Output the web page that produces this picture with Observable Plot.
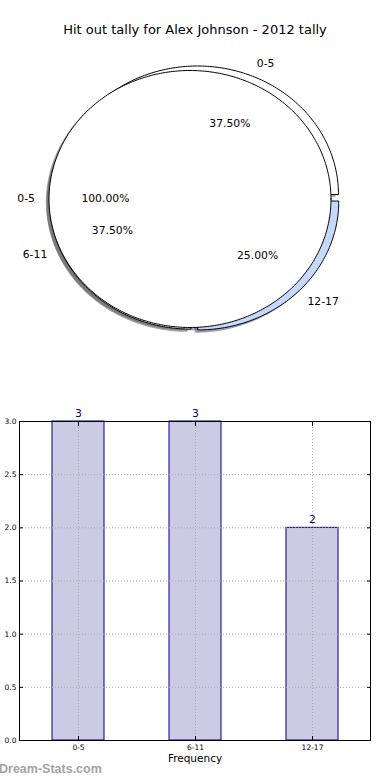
<!DOCTYPE html>
<html><head><meta charset="utf-8">
<script src="https://cdn.jsdelivr.net/npm/d3@7"></script>
<script src="https://cdn.jsdelivr.net/npm/@observablehq/plot@0.6"></script>
<style>
body{margin:0;background:#fff;}
#wrap{position:relative;width:390px;height:780px;overflow:hidden;font-family:"DejaVu Sans",sans-serif;background:#fff;}
#pie{position:absolute;left:0;top:0;}
#title{position:absolute;left:0;width:390px;top:21px;text-align:center;font-size:13px;line-height:17px;color:#000;}
#bar{position:absolute;left:0;top:400px;}
#wm{position:absolute;left:-1px;top:762px;font-family:"Liberation Sans",sans-serif;font-weight:bold;font-size:12.5px;color:#a3a3a3;white-space:nowrap;}
</style></head>
<body>
<div id="wrap">
  <div id="pie"></div>
  <div id="title"></div>
  <div id="bar"></div>
  <div id="wm">Dream-Stats.com</div>
</div>
<script>
// ---- data ----
const titleText = "Hit out tally for Alex Johnson - 2012 tally";
const pie1Labels = ["0-5"];
const pie1Values = [3];
const pie2Labels = ["0-5", "6-11", "12-17"];
const pie2Values = [3, 3, 2];
const barCategories = ["0-5", "6-11", "12-17"];
const barValues = [3, 3, 2];
const yTicks = [0, 0.5, 1, 1.5, 2, 2.5, 3];
const xLabel = "Frequency";

// ---- style / layout config ----
const pie1Colors = ["white"];
const pie2Colors = ["white", "white", "#c6d9fd"];
const pie2Offsets = [[0.053, 0.035], [0.004, -0.012], [0.055, -0.019]];
const shadowOffset = [-0.022, -0.022];

document.getElementById("title").textContent = titleText;

function slices(values, labels, colors, offsets) {
  const total = d3.sum(values);
  let acc = 0;
  return values.map((v, i) => {
    const a0 = acc / total * 2 * Math.PI; acc += v;
    const a1 = acc / total * 2 * Math.PI;
    const [ox, oy] = offsets ? offsets[i] : [0, 0];
    return {label: labels[i], pct: v / total * 100, a0, a1, mid: (a0 + a1) / 2, cx: ox, cy: oy, color: colors[i]};
  });
}
function outline(s, dx = 0, dy = 0) {
  const pts = [];
  const full = s.a1 - s.a0 >= 2 * Math.PI - 1e-9;
  if (!full) pts.push({x: s.cx + dx, y: s.cy + dy});
  const n = Math.max(8, Math.ceil((s.a1 - s.a0) / (Math.PI / 180)));
  for (let i = 0; i <= n; i++) {
    const a = s.a0 + (s.a1 - s.a0) * i / n;
    pts.push({x: s.cx + dx + Math.cos(a), y: s.cy + dy + Math.sin(a)});
  }
  return pts;
}
function shadowColor(c) {
  const r = d3.rgb(c);
  return d3.rgb(r.r * 0.3, r.g * 0.3, r.b * 0.3).formatHex();
}

const pie1 = slices(pie1Values, pie1Labels, pie1Colors, null);
const pie2 = slices(pie2Values, pie2Labels, pie2Colors, pie2Offsets);
const all = [...pie2, ...pie1];

const shadowMarks = all.map(s => Plot.line(outline(s, shadowOffset[0], shadowOffset[1]),
  {x: "x", y: "y", fill: shadowColor(s.color), fillOpacity: 0.5, stroke: "none", curve: "linear-closed"}));
const wedgeMarks = all.map(s => Plot.line(outline(s),
  {x: "x", y: "y", fill: s.color, stroke: "black", strokeWidth: 1, curve: "linear-closed"}));

const labelRows = [...pie1, ...pie2].map(s => ({
  label: s.label,
  pct: s.pct.toFixed(2) + "%",
  lx: s.cx + 1.1 * Math.cos(s.mid), ly: s.cy + 1.1 * Math.sin(s.mid),
  px: s.cx + 0.6 * Math.cos(s.mid), py: s.cy + 0.6 * Math.sin(s.mid),
  left: Math.cos(s.mid) < 0
}));

const piePlot = Plot.plot({
  width: 390, height: 380,
  marginTop: 0, marginBottom: 0, marginLeft: 0, marginRight: 0,
  style: {fontFamily: "DejaVu Sans", fontSize: "10.8px", background: "transparent", overflow: "visible"},
  x: {domain: [-1, 1], range: [48.5, 330.5], axis: null},
  y: {domain: [-1, 1], range: [327, 70], axis: null},
  marks: [
    ...shadowMarks,
    ...wedgeMarks,
    Plot.text(labelRows.filter(d => d.left), {x: "lx", y: "ly", text: "label", textAnchor: "end", fill: "black"}),
    Plot.text(labelRows.filter(d => !d.left), {x: "lx", y: "ly", text: "label", textAnchor: "start", fill: "black"}),
    Plot.text(labelRows, {x: "px", y: "py", text: "pct", textAnchor: "middle", fill: "black"})
  ]
});
document.getElementById("pie").append(piePlot);

const bars = barCategories.map((c, i) => ({cat: c, value: barValues[i]}));

const barPlot = Plot.plot({
  width: 390, height: 380,
  marginTop: 21, marginBottom: 40, marginLeft: 19, marginRight: 20,
  style: {fontFamily: "DejaVu Sans", fontSize: "7.5px", background: "transparent", overflow: "visible", color: "black"},
  x: {domain: barCategories, paddingInner: 0.556, paddingOuter: 0.278, label: null},
  y: {domain: [0, 3], label: null},
  marks: [
    Plot.barY(bars, {x: "cat", y: "value", fill: "#cbcbe3", stroke: "#000080", strokeWidth: 1}),
    Plot.ruleY(yTicks, {y: d => d, stroke: "#aaa", strokeDasharray: "1,2"}),
    Plot.ruleX(barCategories, {x: d => d, stroke: "#aaa", strokeDasharray: "1,2"}),
    Plot.frame({stroke: "black"}),
    Plot.axisY({anchor: "left", ticks: yTicks, tickFormat: d3.format(".1f"), tickSize: -4, tickPadding: 7, label: null}),
    Plot.axisY({anchor: "right", ticks: yTicks, tickFormat: () => "", tickSize: -4, label: null}),
    Plot.axisX({anchor: "bottom", tickSize: -4, tickPadding: 8, label: null}),
    Plot.axisX({anchor: "top", tickSize: -4, tickFormat: () => "", label: null}),
    Plot.text(bars, {x: "cat", y: "value", text: d => String(d.value), dy: -8, fill: "#000080", fontSize: 10.8}),
    Plot.text([xLabel], {frameAnchor: "bottom", dy: 21, fontSize: 10.5, fill: "black"})
  ]
});
document.getElementById("bar").append(barPlot);
</script>
</body></html>
